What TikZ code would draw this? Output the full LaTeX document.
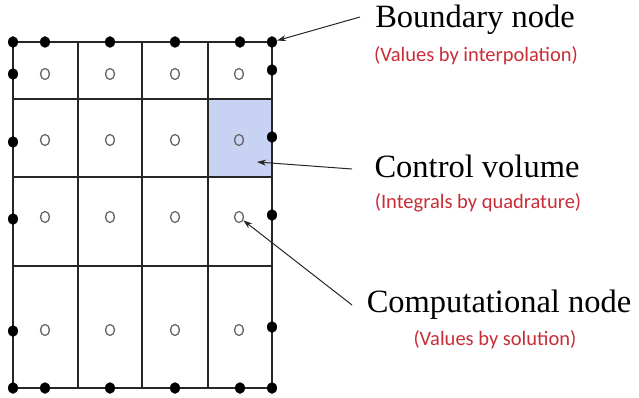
\documentclass[tikz,border=0pt]{standalone}
\usepackage{fontspec}
\setmainfont{Liberation Serif}
\newfontfamily\calib{Carlito}
\usetikzlibrary{arrows.meta,shapes.geometric}
\definecolor{redtxt}{RGB}{200,45,55}
\definecolor{cvfill}{RGB}{200,210,242}
\begin{document}
\begin{tikzpicture}[x=1pt,y=-1pt,
 gridline/.style={line width=1.4pt, black!85},
 bdot/.style={ellipse, fill=black, inner sep=0pt, minimum width=10pt, minimum height=11.5pt},
 cnode/.style={ellipse, draw=black!60, line width=1.3pt, inner sep=0pt, minimum width=9pt, minimum height=11pt},
 title/.style={font=\fontsize{32.5}{36}\selectfont, inner sep=0pt, anchor=base},
 note/.style={font=\calib\fontsize{20.5}{24}\selectfont, text=redtxt, inner sep=0pt, anchor=base},
 pointer/.style={line width=1pt, black!85, -{Stealth[length=9pt,width=6pt]}}]

\useasboundingbox (0,0) rectangle (639,398);

% control volume shading
\fill[cvfill] (208,99) rectangle (272,177);

% grid
\draw[gridline] (13,42) rectangle (272,388);
\foreach \x in {78,142,208} \draw[gridline] (\x,42) -- (\x,388);
\foreach \y in {99,177,266} \draw[gridline] (13,\y) -- (272,\y);

% boundary dots
\foreach \x [count=\i] in {13,45,110,175,240,272} {
  \node[bdot] (t\i) at (\x,42) {};
  \node[bdot] (b\i) at (\x,388) {};
}
\foreach \y [count=\i] in {74,142,219,331} \node[bdot] (l\i) at (13,\y) {};
\foreach \y [count=\i] in {70,137,215,327} \node[bdot] (r\i) at (272,\y) {};

% computational nodes
\foreach \y [count=\j] in {74,140,217,330} {
  \foreach \x [count=\i] in {45,110,175,239} {
    \node[cnode] (c\i\j) at (\x,\y) {};
  }
}

% labels
\node[title] (bn) at (475,28) {Boundary node};
\node[note] (bnn) at (476,62) {(Values by interpolation)};
\node[title] (cv) at (477,178) {Control volume};
\node[note] (cvn) at (478,208) {(Integrals by quadrature)};
\node[title] (cn) at (499,312) {Computational node};
\node[note] (cnn) at (495,345) {(Values by solution)};

\coordinate (bnstart) at (360,17);
\coordinate (cvstart) at (352,169);
\coordinate (cvend) at (257,162);
\coordinate (cnstart) at (352,305);

\draw[pointer] (bnstart) -- (t6);
\draw[pointer] (cvstart) -- (cvend);
\draw[pointer] (cnstart) -- (c43);
\end{tikzpicture}
\end{document}
